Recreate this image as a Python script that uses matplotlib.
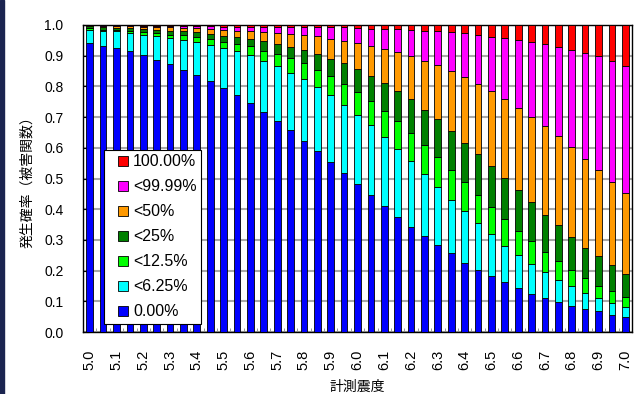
import numpy as np
import matplotlib.pyplot as plt
from matplotlib.patches import Rectangle
from matplotlib.lines import Line2D

plt.rcParams['font.family'] = ['Liberation Sans', 'Noto Sans CJK JP']

# seismic intensity classes (one bar each)
intensity = [5.0, 5.05, 5.1, 5.15, 5.2, 5.25, 5.3, 5.35, 5.4, 5.45,
             5.5, 5.55, 5.6, 5.65, 5.7, 5.75, 5.8, 5.85, 5.9, 5.95,
             6.0, 6.05, 6.1, 6.15, 6.2, 6.25, 6.3, 6.35, 6.4, 6.45,
             6.5, 6.55, 6.6, 6.65, 6.7, 6.75, 6.8, 6.85, 6.9, 6.95, 7.0]
tick_labels = ['5.0', '5.1', '5.2', '5.3', '5.4', '5.5', '5.6', '5.7', '5.8', '5.9',
               '6.0', '6.1', '6.2', '6.3', '6.4', '6.5', '6.6', '6.7', '6.8', '6.9', '7.0']

# cumulative probability at the top of each damage class
p_000 = [.942, .931, .925, .915, .902, .886, .872, .855, .837, .818,
         .796, .773, .746, .717, .688, .657, .622, .590, .554, .518,
         .483, .446, .411, .375, .343, .312, .282, .256, .226, .203,
         .184, .163, .143, .125, .112, .098, .085, .074, .067, .057, .050]
p_625 = [.984, .980, .979, .974, .967, .965, .959, .951, .943, .934,
         .924, .914, .901, .882, .867, .845, .824, .798, .772, .741,
         .706, .673, .635, .595, .556, .516, .471, .431, .393, .354,
         .318, .281, .251, .220, .194, .170, .149, .128, .112, .094, .082]
p_125 = [.989, .985, .983, .981, .976, .973, .969, .967, .961, .953,
         .946, .939, .930, .916, .905, .891, .875, .853, .834, .809,
         .781, .752, .719, .686, .649, .610, .571, .529, .489, .445,
         .407, .367, .330, .295, .262, .231, .203, .176, .151, .132, .115]
p_25 = [.996, .993, .991, .990, .987, .985, .982, .981, .977, .971,
        .963, .960, .954, .948, .937, .927, .918, .905, .889, .875,
        .856, .833, .811, .785, .758, .724, .693, .655, .617, .581,
        .541, .501, .461, .422, .380, .347, .309, .274, .246, .218, .190]
p_50 = [.999, .998, .997, .996, .993, .992, .992, .990, .989, .987,
        .985, .981, .981, .978, .975, .972, .967, .964, .954, .948,
        .941, .931, .922, .912, .898, .882, .869, .850, .832, .808,
        .784, .758, .731, .700, .670, .637, .602, .565, .527, .489, .452]
p_9999 = [1.0, .9995, .999, .999, .998, .998, .998, .998, .998, .996,
          .995, .995, .995, .995, .995, .995, .995, .993, .993, .993,
          .989, .988, .986, .986, .984, .981, .979, .976, .973, .968,
          .962, .958, .951, .944, .938, .928, .918, .908, .898, .884, .866]
p_100 = [1.0] * 41

labels = ['0.00%', '<6.25%', '<12.5%', '<25%', '<50%', '<99.99%', '100.00%']
colors = ['#0000ff', '#00ffff', '#00ff00', '#008000', '#ff9900', '#ff00ff', '#ff0000']
series = [p_000, p_625, p_125, p_25, p_50, p_9999, p_100]

x = np.arange(len(intensity))

fig = plt.figure(figsize=(6.35, 3.94), dpi=100)
ax = fig.add_axes([83/635, 1-332/394, 549/635, 307/394])

prev = np.zeros(len(x))
for tops, c, lab in zip(series, colors, labels):
    tops = np.array(tops)
    ax.bar(x, tops - prev, bottom=prev, width=0.5, color=c,
           edgecolor='black', linewidth=0.6, label=lab, zorder=3)
    prev = tops

ax.set_xlim(-0.5, len(x) - 0.5)
ax.set_ylim(0, 1)
ax.set_yticks(np.arange(0, 1.01, 0.1))
ax.set_yticklabels(['%.1f' % v for v in np.arange(0, 1.01, 0.1)], fontsize=10)
ax.grid(axis='y', color='#a8a8a8', linewidth=1.5, zorder=0)
ax.set_axisbelow(True)

ax.set_xticks(x[::2])
ax.set_xticklabels(tick_labels, rotation=90, fontsize=10.5)
ax.set_xticks(x[:-1] + 0.5, minor=True)
ax.tick_params(axis='x', which='major', length=0, pad=13)
ax.tick_params(axis='x', which='minor', direction='in', length=3, color='#888888')
ax.tick_params(axis='y', direction='in', length=4, pad=14)

for s in ax.spines.values():
    s.set_color('black')
    s.set_linewidth(1)

# square swatches, highest damage class on top
handles = [Line2D([], [], linestyle='none', marker='s', markersize=7.2,
                  markerfacecolor=c, markeredgecolor='black', markeredgewidth=0.6)
           for c in colors]
leg = ax.legend(handles[::-1], labels[::-1], loc='lower left',
                bbox_to_anchor=(0.038, 0.026), borderaxespad=0, fontsize=11.5,
                frameon=True, fancybox=False, framealpha=1, edgecolor='black',
                handlelength=1.78, handletextpad=-0.26, labelspacing=0.625,
                borderpad=0.3)
leg.get_frame().set_linewidth(0.8)

fig.text(27/635, 1 - (25 + 332)/2/394, '発生確率（被害関数）',
         rotation=90, ha='center', va='center', fontsize=10)
fig.text((83 + 632)/2/635, 7.5/394, '計測震度', ha='center', va='center', fontsize=10)

# dark slide edge on the left
fig.patches.append(Rectangle((0, 0), 4/635, 1, transform=fig.transFigure,
                             color='#1b2450', zorder=10))

fig.savefig('out.png', dpi=100)
